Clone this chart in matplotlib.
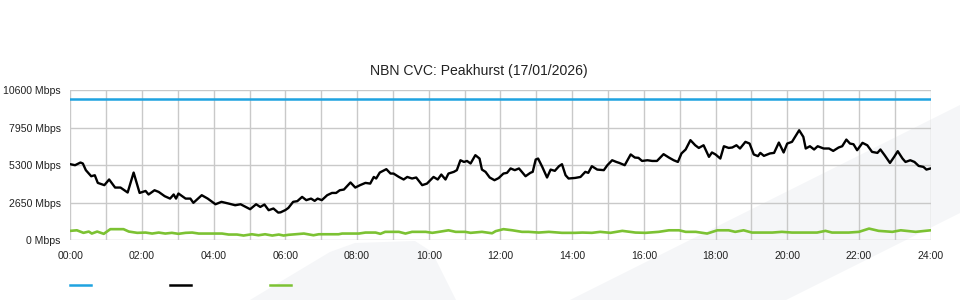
import matplotlib.pyplot as plt
from matplotlib.patches import Polygon
from matplotlib.lines import Line2D

plt.rcParams['font.family'] = ['Liberation Sans', 'DejaVu Sans']

title = 'NBN CVC: Peakhurst (17/01/2026)'

# capacity (blue), constant over the day
capacity_mbps = 10000

# used bandwidth (black)
used_times = [
    '00:00', '00:08', '00:17', '00:21', '00:26', '00:35', '00:41', '00:46', '00:57', '01:05',
    '01:15', '01:24', '01:36', '01:46', '01:56', '02:06', '02:11', '02:21', '02:28', '02:38',
    '02:47', '02:53', '02:57', '03:01', '03:13', '03:21', '03:26', '03:32', '03:40', '03:50',
    '04:03', '04:13', '04:25', '04:36', '04:45', '05:01', '05:11', '05:18', '05:25', '05:32',
    '05:40', '05:48', '05:52', '06:00', '06:05', '06:13', '06:20', '06:28', '06:35', '06:43',
    '06:49', '06:54', '07:01', '07:10', '07:18', '07:25', '07:31', '07:38', '07:49', '07:57',
    '08:05', '08:14', '08:22', '08:28', '08:32', '08:38', '08:49', '08:56', '09:01', '09:10',
    '09:18', '09:24', '09:32', '09:39', '09:49', '09:57', '10:08', '10:15', '10:21', '10:28',
    '10:33', '10:42', '10:47', '10:53', '10:59', '11:04', '11:10', '11:18', '11:25', '11:29',
    '11:35', '11:42', '11:50', '11:57', '12:05', '12:11', '12:17', '12:24', '12:31', '12:42',
    '12:50', '12:54', '12:59', '13:03', '13:10', '13:18', '13:24', '13:31', '13:38', '13:43',
    '13:49', '13:54', '14:05', '14:14', '14:22', '14:27', '14:33', '14:42', '14:53', '14:59',
    '15:07', '15:14', '15:19', '15:28', '15:38', '15:45', '15:51', '15:57', '16:06', '16:14',
    '16:22', '16:33', '16:42', '16:50', '16:57', '17:03', '17:10', '17:18', '17:26', '17:32',
    '17:40', '17:49', '17:54', '18:00', '18:08', '18:14', '18:22', '18:28', '18:35', '18:41',
    '18:50', '18:57', '19:04', '19:11', '19:15', '19:21', '19:31', '19:38', '19:46', '19:54',
    '20:00', '20:08', '20:20', '20:27', '20:31', '20:38', '20:45', '20:51', '21:01', '21:10',
    '21:17', '21:26', '21:32', '21:39', '21:45', '21:51', '21:57', '22:06', '22:14', '22:22',
    '22:31', '22:36', '22:43', '22:52', '22:59', '23:05', '23:13', '23:18', '23:26', '23:33',
    '23:40', '23:48', '23:53', '24:00',
]
used_mbps = [
    5370, 5300, 5490, 5420, 4950, 4520, 4590, 4050, 3890, 4290,
    3720, 3720, 3370, 4780, 3340, 3480, 3230, 3530, 3410, 3110,
    2940, 3230, 2940, 3300, 2940, 2940, 2640, 2870, 3180, 2940,
    2540, 2710, 2590, 2470, 2540, 2190, 2540, 2350, 2520, 2120,
    2240, 1950, 1970, 2130, 2280, 2710, 2760, 3060, 2830, 2940,
    2780, 2940, 2830, 3180, 3340, 3340, 3530, 3580, 4080, 3720,
    3890, 4050, 4000, 4470, 4360, 4780, 5020, 4710, 4710, 4470,
    4290, 4470, 4360, 4430, 3890, 4000, 4470, 4290, 4640, 4290,
    4710, 4830, 4950, 5650, 5530, 5600, 5420, 6010, 5770, 4990,
    4830, 4430, 4240, 4390, 4710, 4760, 5070, 4950, 5070, 4520,
    4760, 4830, 5700, 5770, 5180, 4430, 4990, 4900, 5230, 5370,
    4590, 4360, 4400, 4470, 4830, 4760, 5230, 4990, 4950, 5300,
    5650, 5530, 5460, 5300, 6060, 5840, 5820, 5600, 5650, 5600,
    5600, 6080, 5840, 5650, 5530, 6130, 6410, 7070, 6710, 6520,
    6710, 5890, 6200, 6060, 5770, 6640, 6520, 6550, 6710, 6480,
    6950, 6830, 6060, 5940, 6170, 5960, 6130, 6170, 6900, 6200,
    6830, 6950, 7770, 7300, 6480, 6640, 6410, 6640, 6480, 6480,
    6310, 6550, 6640, 7110, 6830, 6780, 6360, 6880, 6710, 6240,
    6170, 6410, 6010, 5460, 5890, 6290, 5770, 5530, 5650, 5530,
    5250, 5180, 4990, 5070,
]

# green series, low level near the bottom
low_times = [
    '00:00', '00:11', '00:22', '00:31', '00:36', '00:45', '00:56', '01:07', '01:29', '01:38',
    '01:52', '02:06', '02:17', '02:28', '02:39', '02:50', '03:01', '03:13', '03:24', '03:35',
    '04:14', '04:25', '04:39', '04:50', '05:04', '05:15', '05:26', '05:38', '05:49', '05:57',
    '06:05', '06:17', '06:31', '06:47', '06:56', '07:29', '07:35', '08:03', '08:14', '08:31',
    '08:39', '08:47', '09:10', '09:21', '09:32', '09:55', '10:06', '10:17', '10:33', '10:45',
    '11:01', '11:10', '11:29', '11:46', '11:52', '12:05', '12:20', '12:36', '12:47', '13:04',
    '13:21', '13:43', '14:05', '14:17', '14:33', '14:47', '15:04', '15:24', '15:46', '16:03',
    '16:25', '16:42', '16:59', '17:10', '17:27', '17:46', '18:03', '18:22', '18:33', '18:47',
    '19:01', '19:35', '19:51', '20:08', '20:31', '20:50', '21:04', '21:15', '21:43', '22:00',
    '22:17', '22:33', '22:56', '23:10', '23:35', '24:00',
]
low_mbps = [
    660, 700, 520, 610, 470, 610, 450, 780, 780, 610,
    520, 540, 470, 540, 470, 520, 450, 520, 540, 470,
    470, 400, 400, 330, 420, 350, 420, 330, 400, 330,
    380, 420, 470, 350, 420, 420, 470, 470, 540, 540,
    450, 590, 590, 470, 590, 590, 520, 590, 700, 590,
    590, 520, 590, 490, 640, 780, 700, 590, 590, 540,
    590, 520, 520, 540, 520, 590, 520, 660, 540, 520,
    590, 700, 700, 590, 590, 470, 700, 700, 590, 700,
    540, 540, 590, 540, 540, 540, 660, 540, 540, 590,
    820, 660, 590, 700, 590, 700,
]

y_ticks = [0, 2650, 5300, 7950, 10600]
x_ticks = list(range(0, 25, 2))

BLUE = '#1fa3e0'
GREEN = '#7cc233'
GRID = '#c9c9c9'
SHADE = '#f5f6f8'


def to_hours(t):
    h, m = t.split(':')
    return int(h) + int(m) / 60


W, H = 960, 300
fig = plt.figure(figsize=(W / 100, H / 100), dpi=100)


def px(points):
    return [(x / W, 1 - y / H) for x, y in points]


# faint background shapes, behind the axes
fig.patches.append(Polygon(px([(250, 300), (330, 252), (355, 243), (415, 241), (432, 252), (456, 300)]),
                           closed=True, transform=fig.transFigure, facecolor=SHADE, edgecolor='none', zorder=-10))
fig.patches.append(Polygon(px([(570, 300), (960, 105), (960, 213), (786, 300)]),
                           closed=True, transform=fig.transFigure, facecolor=SHADE, edgecolor='none', zorder=-10))

ax = fig.add_axes([70.3 / W, 1 - 240.2 / H, 860.3 / W, 150 / H])
ax.patch.set_alpha(0)

ax.plot([0, 24], [capacity_mbps, capacity_mbps], color=BLUE, lw=1.8, zorder=3)
ax.plot([to_hours(t) for t in used_times], used_mbps, color='black', lw=1.7, zorder=4)
ax.plot([to_hours(t) for t in low_times], low_mbps, color=GREEN, lw=1.9, zorder=3)

ax.set_xlim(0, 24)
ax.set_ylim(0, 10600)
ax.set_xticks(x_ticks)
ax.set_xticklabels([f'{h:02d}:00' for h in x_ticks])
ax.set_xticks(range(0, 25), minor=True)
ax.set_yticks(y_ticks)
ax.set_yticklabels([f'{v} Mbps' for v in y_ticks])
ax.tick_params(which='both', length=0, labelsize=7.6, colors='#222222')
ax.tick_params(axis='y', pad=7)
ax.tick_params(axis='x', pad=8)
ax.grid(True, which='both', axis='x', color=GRID, lw=1.0)
ax.grid(True, which='major', axis='y', color=GRID, lw=1.0)
ax.set_axisbelow(True)
for s in ax.spines.values():
    s.set_visible(False)

fig.text(479 / W, 1 - 71 / H, title, ha='center', va='center', fontsize=10.1, color='#222222')

# legend swatches without labels
for x0, c in [(70, BLUE), (170, 'black'), (270, GREEN)]:
    fig.add_artist(Line2D([x0 / W, (x0 + 21) / W], [1 - 285 / H] * 2, color=c, lw=1.8,
                          transform=fig.transFigure))

fig.savefig('out.png', dpi=100)
